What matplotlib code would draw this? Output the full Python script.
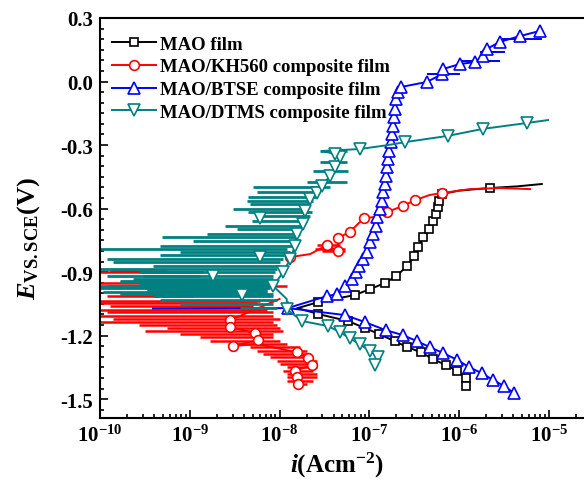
import numpy as np
import matplotlib
matplotlib.use("Agg")
import matplotlib.pyplot as plt
from matplotlib.ticker import MultipleLocator, FixedLocator, LogLocator, NullFormatter

plt.rcParams['font.family'] = 'Liberation Serif'
plt.rcParams['font.weight'] = 'bold'
plt.rcParams['mathtext.fontset'] = 'custom'
plt.rcParams['mathtext.rm'] = 'Liberation Serif:bold'
plt.rcParams['mathtext.it'] = 'Liberation Serif:italic:bold'
plt.rcParams['mathtext.bf'] = 'Liberation Serif:bold'

# ---- data: log10(i / A cm^-2) and E (V vs SCE) ----
# MAO film
mao_an_logi = [-7.80, -7.57, -7.16, -6.99, -6.83, -6.70, -6.58, -6.50, -6.46, -6.40,
               -6.34, -6.29, -6.26, -6.24, -6.22, -6.19, -6.00, -5.66, -5.35, -5.08]
mao_an_E = [-1.070, -1.042, -1.008, -0.980, -0.952, -0.919, -0.871, -0.824, -0.782, -0.734,
            -0.697, -0.659, -0.626, -0.593, -0.564, -0.531, -0.515, -0.503, -0.495, -0.484]
mao_ca_logi = [-7.80, -7.57, -7.24, -7.05, -6.89, -6.72, -6.58, -6.43, -6.29, -6.15, -6.02, -5.92, -5.92]
mao_ca_E = [-1.070, -1.098, -1.131, -1.164, -1.193, -1.226, -1.254, -1.278, -1.311, -1.339, -1.367, -1.401, -1.438]

# MAO/KH560
kh_an_logi = [-7.88, -7.66, -7.47, -7.35, -7.35, -7.22, -7.06, -6.94, -6.80, -6.63,
              -6.49, -6.33, -6.19, -5.88, -5.55, -5.21]
kh_an_E = [-0.829, -0.815, -0.772, -0.801, -0.739, -0.711, -0.645, -0.640, -0.616, -0.588,
           -0.560, -0.536, -0.527, -0.508, -0.503, -0.508]
kh_ca_logi = [-8.00, -8.55, -8.55, -8.27, -8.24, -8.52, -8.25, -7.81, -7.68, -7.64, -7.83, -7.81, -7.80]
kh_ca_E = [-1.027, -1.127, -1.160, -1.188, -1.221, -1.249, -1.240, -1.278, -1.306, -1.339, -1.367, -1.396, -1.429]
kh_spike_E = [-0.772, -0.790, -0.801, -0.895, -0.900, -0.919, -0.942, -0.952, -0.966, -0.966,
              -1.004, -1.013, -1.037, -1.046, -1.060, -1.079, -1.089, -1.108, -1.122, -1.136,
              -1.150, -1.164, -1.179, -1.193, -1.207, -1.226, -1.240, -1.254, -1.273, -1.287,
              -1.301, -1.320, -1.334, -1.349, -1.367, -1.382, -1.396, -1.415, -1.429]
kh_spike_lo = [-7.58, -7.61, -7.53, -9.89, -10.2, -9.52, -9.63, -10.2, -8.33, -9.92,
               -9.78, -9.92, -10.2, -10.2, -9.89, -10.2, -9.92, -10.2, -9.86, -10.2,
               -9.56, -9.25, -9.50, -9.11, -8.89, -8.78, -8.52, -8.33, -8.25, -8.19,
               -8.11, -8.03, -8.00, -7.92, -7.96, -7.92, -7.92, -7.92, -7.85]
kh_spike_hi = [-7.33, -7.27, -7.27, -9.25, -8.85, -8.89, -8.78, -9.25, -7.92, -9.08,
               -8.78, -8.96, -8.22, -8.25, -8.30, -8.14, -8.07, -8.07, -8.00, -8.07,
               -8.03, -8.00, -7.96, -8.07, -8.07, -8.00, -7.92, -7.77, -7.70, -7.66,
               -7.63, -7.58, -7.58, -7.58, -7.63, -7.58, -7.58, -7.63, -7.70]

# MAO/BTSE
bt_an_logi = [-9.41, -7.91, -7.47, -7.36, -7.27, -7.19, -7.15, -7.12, -7.07, -7.03,
              -6.99, -6.96, -6.93, -6.92, -6.88, -6.86, -6.85, -6.83, -6.82, -6.80,
              -6.79, -6.78, -6.76, -6.75, -6.74, -6.73, -6.72, -6.70, -6.68, -6.65,
              -6.36, -6.19, -6.18, -5.99, -5.82, -5.74, -5.69, -5.55, -5.32, -5.10]
bt_an_E = [-1.072, -1.070, -1.013, -1.004, -0.966, -0.933, -0.900, -0.871, -0.838, -0.805,
           -0.758, -0.720, -0.683, -0.640, -0.602, -0.564, -0.522, -0.484, -0.446, -0.404,
           -0.366, -0.328, -0.286, -0.248, -0.210, -0.168, -0.130, -0.083, -0.050, -0.026,
           -0.002, 0.035, 0.059, 0.083, 0.092, 0.120, 0.154, 0.187, 0.215, 0.239]
bt_ca_logi = [-7.91, -7.27, -7.05, -6.82, -6.63, -6.47, -6.33, -6.18, -6.02, -5.89, -5.75, -5.62, -5.50, -5.39]
bt_ca_E = [-1.070, -1.103, -1.136, -1.174, -1.197, -1.226, -1.254, -1.282, -1.315, -1.349, -1.377, -1.410, -1.438, -1.471]
bt_spike_E = [0.035, 0.097, 0.139, 0.201]
bt_spike_lo = [-6.36, -5.99, -5.77, -5.55]
bt_spike_hi = [-5.99, -5.55, -5.49, -5.08]

# MAO/DTMS
dt_an_logi = [-7.92, -7.92, -8.07, -7.96, -7.88, -7.83, -7.81, -7.74, -7.72, -7.66, -7.58, -7.53,
              -7.44, -7.38, -7.33, -7.38, -7.53, -7.11, -6.79, -6.60, -6.13, -5.74, -5.25, -5.01]
dt_an_E = [-1.075, -1.027, -0.966, -0.900, -0.838, -0.777, -0.720, -0.673, -0.612, -0.555, -0.527, -0.494,
           -0.446, -0.404, -0.357, -0.342, -0.328, -0.319, -0.300, -0.286, -0.257, -0.224, -0.196, -0.182]
dt_ca_logi = [-7.92, -7.75, -7.46, -7.33, -7.22, -7.11, -6.99, -6.90, -6.94]
dt_ca_E = [-1.075, -1.131, -1.155, -1.183, -1.212, -1.240, -1.273, -1.301, -1.339]
dt_extra_logi = [-8.42, -8.74, -8.22, -8.22]
dt_extra_E = [-1.008, -0.919, -0.829, -0.645]
dt_spike_E = [-0.328, -0.380, -0.423, -0.475, -0.498, -0.522, -0.546, -0.564, -0.579, -0.602,
              -0.616, -0.635, -0.659, -0.683, -0.697, -0.720, -0.734, -0.753, -0.777, -0.791,
              -0.805, -0.820, -0.838, -0.853, -0.871, -0.886, -0.900, -0.919, -0.933, -0.942,
              -0.947, -0.956, -0.966, -0.975, -0.980, -0.987, -0.994, -1.005, -1.013, -1.032,
              -1.051, -1.070]
dt_spike_lo = [-7.55, -7.55, -7.63, -7.70, -8.30, -8.25, -8.35, -8.36, -8.33, -8.52,
               -8.35, -8.25, -8.31, -8.61, -8.47, -8.81, -9.31, -8.96, -9.33, -10.2,
               -9.11, -9.33, -9.92, -9.86, -9.41, -10.2, -9.56, -9.92, -9.63, -9.78,
               -9.78, -9.56, -10.2, -10.2, -9.48, -9.48, -9.97, -9.78, -9.41, -9.33,
               -9.11, -8.44]
dt_spike_hi = [-7.25, -7.25, -7.24, -7.25, -7.44, -7.55, -7.58, -7.63, -7.66, -7.70,
               -7.64, -7.66, -7.70, -7.74, -7.77, -7.77, -7.81, -7.83, -7.85, -7.92,
               -7.88, -7.92, -7.96, -8.00, -8.00, -8.03, -8.05, -8.07, -8.07, -8.07,
               -8.11, -8.07, -8.11, -8.11, -8.14, -8.14, -8.14, -8.07, -8.07, -8.03,
               -8.07, -8.03]

labels = ['MAO film', 'MAO/KH560 composite film', 'MAO/BTSE composite film', 'MAO/DTMS composite film']
y_ticks = [-1.5, -1.2, -0.9, -0.6, -0.3, 0.0, 0.3]
y_tick_labels = ['-1.5', '-1.2', '-0.9', '-0.6', '-0.3', '0.0', '0.3']
x_ticks = [1e-10, 1e-9, 1e-8, 1e-7, 1e-6, 1e-5]
x_tick_labels = [r'$\mathbf{10^{-10}}$', r'$\mathbf{10^{-9}}$', r'$\mathbf{10^{-8}}$',
                 r'$\mathbf{10^{-7}}$', r'$\mathbf{10^{-6}}$', r'$\mathbf{10^{-5}}$']

c_mao, c_kh, c_bt, c_dt = 'black', '#ff0000', '#0000ff', '#008080'

def p(v):
    return np.power(10.0, np.array(v))

fig = plt.figure(figsize=(5.84, 4.81), dpi=100)
ax = fig.add_axes([0.1712, 0.1289, 0.8288, 0.8316])

lw = 1.4
ms_kw = dict(markerfacecolor='white', markeredgewidth=1.2)

# MAO
h1, = ax.plot(p(mao_an_logi), mao_an_E, color=c_mao, lw=lw, marker='s', ms=6,
              markevery=list(range(1, 16)) + [17], label=labels[0], **ms_kw)
ax.plot(p(mao_ca_logi), mao_ca_E, color=c_mao, lw=lw, marker='s', ms=6,
        markevery=list(range(1, 13)), **ms_kw)

# KH560
ax.hlines(kh_spike_E, p(kh_spike_lo), p(kh_spike_hi), color=c_kh, lw=1.8)
h2, = ax.plot(p(kh_an_logi), kh_an_E, color=c_kh, lw=lw, marker='o', ms=7,
              markevery=[0, 2, 3, 4, 5, 6, 8, 9, 10, 12], label=labels[1], **ms_kw)
ax.plot(p(kh_ca_logi), kh_ca_E, color=c_kh, lw=lw, marker='o', ms=7,
        markevery=[1, 2, 3, 4, 5, 7, 8, 9, 10, 11, 12], **ms_kw)

# BTSE
ax.hlines(bt_spike_E, p(bt_spike_lo), p(bt_spike_hi), color=c_bt, lw=1.4)
h3, = ax.plot(p(bt_an_logi), bt_an_E, color=c_bt, lw=lw, marker='^', ms=8,
              markevery=list(range(1, 40)), label=labels[2], **ms_kw)
ax.plot(p(bt_ca_logi), bt_ca_E, color=c_bt, lw=lw, marker='^', ms=8,
        markevery=list(range(1, 14)), **ms_kw)

# DTMS
ax.hlines(dt_spike_E, p(dt_spike_lo), p(dt_spike_hi), color=c_dt, lw=2.0)
h4, = ax.plot(p(dt_an_logi), dt_an_E, color=c_dt, lw=lw, marker='v', ms=8,
              markevery=list(range(2, 16)) + [17, 19, 20, 21, 22], label=labels[3], **ms_kw)
ax.plot(p(dt_ca_logi), dt_ca_E, color=c_dt, lw=lw, marker='v', ms=8,
        markevery=list(range(0, 9)), **ms_kw)
ax.plot(p(dt_extra_logi), dt_extra_E, ls='none', color=c_dt, marker='v', ms=8, **ms_kw)

ax.set_xscale('log')
ax.set_xlim(1e-10, 10 ** -4.61)
ax.set_ylim(-1.589, 0.3)

ax.xaxis.set_major_locator(FixedLocator(x_ticks))
ax.set_xticklabels(x_tick_labels)
ax.xaxis.set_minor_locator(LogLocator(base=10, subs=np.arange(2, 10)))
ax.xaxis.set_minor_formatter(NullFormatter())
ax.set_yticks(y_ticks)
ax.set_yticklabels(y_tick_labels)
ax.yaxis.set_minor_locator(MultipleLocator(0.05))

ax.tick_params(which='both', direction='in', top=False, right=False, width=1.2)
ax.tick_params(which='major', length=6, labelsize=15, pad=5)
ax.tick_params(which='minor', length=3)
for s in ['left', 'bottom', 'top']:
    ax.spines[s].set_linewidth(1.5)
ax.spines['right'].set_visible(False)

ax.set_ylabel(r'$E_{\mathbf{VS.SCE}}$(V)', fontsize=19, fontweight='bold')
ax.yaxis.set_label_coords(-0.12, 0.45)
ax.set_xlabel(r'$i$(Acm$^{\mathbf{-2}}$)', fontsize=18, fontweight='bold')
ax.xaxis.set_label_coords(0.49, -0.08)

ax.legend(handles=[h1, h2, h3, h4], loc='upper left', bbox_to_anchor=(0.01, 0.975),
          frameon=False, fontsize=13.5, handlelength=2.35, handletextpad=0.2,
          labelspacing=0.3, borderaxespad=0.0)

fig.savefig('out.png', dpi=100)
